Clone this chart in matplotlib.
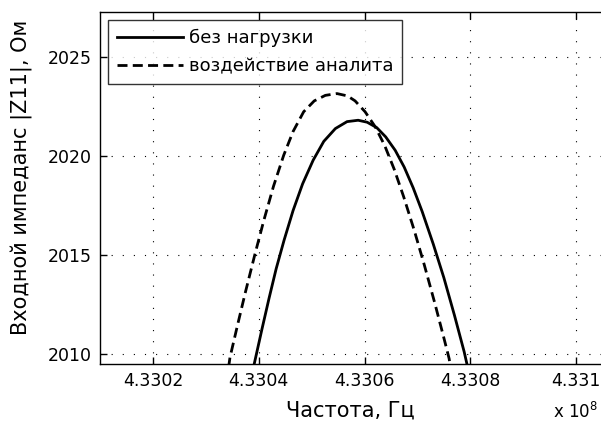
import matplotlib
matplotlib.use("AGG")
import matplotlib.pyplot as plt
from matplotlib.ticker import FuncFormatter, FixedLocator

# Data (frequency in Hz, |Z11| in Ohm)
freq_unloaded = [433039000, 433039300, 433040620, 433041950, 433043300, 433044800,
                 433046500, 433048300, 433050300, 433052300, 433054500, 433056700,
                 433058800, 433060500, 433062300, 433064000, 433065800, 433067500,
                 433069200, 433070900, 433073000, 433075000, 433077000, 433078840,
                 433079600]
z_unloaded = [2009.3, 2009.66, 2011.25, 2012.80, 2014.30, 2015.75,
              2017.25, 2018.60, 2019.80, 2020.75, 2021.40, 2021.75,
              2021.82, 2021.72, 2021.45, 2020.98, 2020.30, 2019.45,
              2018.40, 2017.20, 2015.55, 2013.85, 2011.95, 2010.10,
              2009.2]

freq_analyte = [433034300, 433034570, 433036000, 433037500, 433039300, 433041000,
                433042800, 433044730, 433046500, 433048500, 433050500, 433052600,
                433054800, 433056800, 433058220, 433060110, 433062000, 433063800,
                433065600, 433067400, 433069400, 433071300, 433073300, 433075100,
                433076000, 433076300]
z_analyte = [2009.3, 2009.81, 2011.45, 2013.13, 2015.05, 2016.78,
             2018.48, 2020.05, 2021.25, 2022.25, 2022.80, 2023.08,
             2023.17, 2023.05, 2022.80, 2022.25, 2021.50, 2020.55,
             2019.35, 2017.95, 2016.25, 2014.50, 2012.55, 2010.70,
             2009.75, 2009.2]

x_ticks = [433020000, 433040000, 433060000, 433080000, 433100000]
y_ticks = [2010, 2015, 2020, 2025]
labels = ["без нагрузки", "воздействие аналита"]

plt.rcParams['font.family'] = ['DejaVu Sans']

fig = plt.figure(figsize=(6.01, 4.24), dpi=100)
W, H = 601, 424
# axes box runs past the right edge of the picture, as in the reference
ax = fig.add_axes([100 / W, 60 / H, 529 / W, 352 / H])

ax.plot(freq_unloaded, z_unloaded, color="black", linewidth=2.0, label=labels[0])
ax.plot(freq_analyte, z_analyte, color="black", linewidth=2.0,
        linestyle=(0, (3.6, 1.9)), label=labels[1])

ax.set_xlim(433010000, 433110000)
ax.set_ylim(2009.48, 2027.3)
ax.xaxis.set_major_locator(FixedLocator(x_ticks))
ax.yaxis.set_major_locator(FixedLocator(y_ticks))
ax.xaxis.set_major_formatter(FuncFormatter(lambda v, p: f"{v / 1e8:g}"))
ax.tick_params(direction="in", length=5, width=1, top=True, right=True,
               labelsize=12.5, pad=6, colors="black")
for s in ax.spines.values():
    s.set_linewidth(1.0)
    s.set_color("black")

ax.grid(True, color="black", linewidth=0.8, linestyle=(0, (1, 9)))

# axis labels placed by hand, since the axes box is cut off on the right
fig.text(350 / W, 1 - 411 / H, "Частота, Гц", fontsize=15, ha="center", va="center")
fig.text(22 / W, 1 - 177 / H, "Входной импеданс |Z11|, Ом", fontsize=15,
         rotation=90, ha="center", va="center")
fig.text(553 / W, 2 / H, r"x 10$^{8}$", fontsize=12, ha="left", va="bottom")

leg = ax.legend(loc="upper left", fontsize=13, frameon=True, fancybox=False,
                handlelength=3.65, handletextpad=0.33, borderaxespad=0.44,
                borderpad=0.5, labelspacing=0.55)
leg.get_frame().set_edgecolor("black")
leg.get_frame().set_linewidth(1.0)

fig.savefig("out.png", dpi=100)
